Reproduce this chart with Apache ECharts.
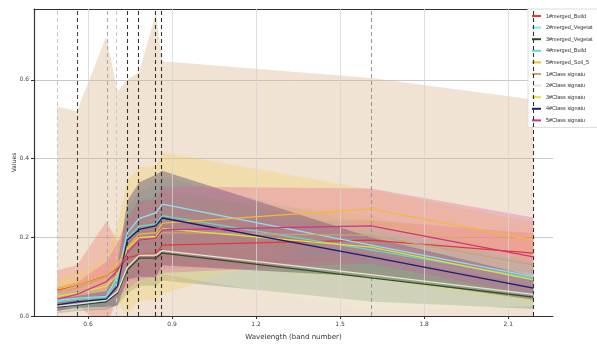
<!DOCTYPE html>
<html>
<head>
	<meta charset="UTF-8">
	<title>Band signatures</title>
	<script src="https://cdn.jsdelivr.net/npm/echarts@6/dist/echarts.min.js"></script>
</head>
<body style="margin:0; background:#fff;">
	<div id="container" style="width:597px;height:344px;"></div>
	<script type="text/javascript">
		// 波段中心波长 (μm)
		var bands = [0.49, 0.56, 0.665, 0.705, 0.74, 0.783, 0.842, 0.865, 1.61, 2.19];
		var xTicks = [0.6, 0.9, 1.2, 1.5, 1.8, 2.1];

		var names = ['1#merged_Build', '2#merged_Vegetat', '3#merged_Vegetat', '4#merged_Build', '5#merged_Soil_5',
			'1#Class signatu', '2#Class signatu', '3#Class signatu', '4#Class signatu', '5#Class signatu'];
		var colors = ['#e23a32', '#8fe0f2', '#2b4f2b', '#5fdcc0', '#f5b83a',
			'#c9a27a', '#dcebd0', '#e4de3c', '#1c1c72', '#d2338a'];
		var fills = ['#ee6a5a', '#8fd8ea', '#5f7f4f', '#6fdcc0', '#f2cc52',
			'#d9b890', '#e8f2d8', '#d8d860', '#3a3060', '#e0559a'];

		// 均值
		var mean1 = [0.066, 0.079, 0.104, 0.120, 0.147, 0.156, 0.158, 0.180, 0.193, 0.160];
		var mean2 = [0.040, 0.045, 0.050, 0.100, 0.211, 0.248, 0.262, 0.284, 0.180, 0.100];
		var mean3 = [0.022, 0.028, 0.036, 0.058, 0.117, 0.147, 0.147, 0.160, 0.097, 0.048];
		var mean4 = [0.036, 0.042, 0.048, 0.088, 0.198, 0.228, 0.234, 0.255, 0.168, 0.096];
		var mean5 = [0.068, 0.080, 0.105, 0.130, 0.175, 0.208, 0.212, 0.236, 0.272, 0.193];
		var mean6 = [0.060, 0.070, 0.100, 0.125, 0.160, 0.192, 0.196, 0.212, 0.205, 0.130];
		var mean7 = [0.025, 0.030, 0.040, 0.062, 0.124, 0.154, 0.155, 0.166, 0.105, 0.055];
		var mean8 = [0.050, 0.058, 0.075, 0.105, 0.170, 0.200, 0.202, 0.222, 0.175, 0.092];
		var mean9 = [0.028, 0.036, 0.043, 0.076, 0.193, 0.220, 0.229, 0.249, 0.150, 0.071];
		var mean10 = [0.043, 0.055, 0.087, 0.115, 0.160, 0.193, 0.197, 0.219, 0.229, 0.150];
		// 标准差
		var std1 = [0.050, 0.050, 0.136, 0.070, 0.060, 0.060, 0.060, 0.060, 0.050, 0.050];
		var std2 = [0.020, 0.020, 0.020, 0.040, 0.060, 0.070, 0.070, 0.070, 0.050, 0.040];
		var std3 = [0.015, 0.015, 0.020, 0.030, 0.060, 0.070, 0.070, 0.070, 0.060, 0.030];
		var std4 = [0.020, 0.020, 0.020, 0.040, 0.060, 0.070, 0.070, 0.070, 0.050, 0.040];
		var std5 = [0.030, 0.030, 0.040, 0.100, 0.170, 0.170, 0.170, 0.180, 0.050, 0.045];
		var std6 = [0.472, 0.450, 0.610, 0.445, 0.440, 0.428, 0.574, 0.435, 0.400, 0.420];
		var std7 = [0.015, 0.015, 0.020, 0.030, 0.050, 0.060, 0.060, 0.060, 0.090, 0.030];
		var std8 = [0.030, 0.030, 0.030, 0.050, 0.080, 0.090, 0.090, 0.090, 0.080, 0.060];
		var std9 = [0.015, 0.015, 0.020, 0.050, 0.100, 0.120, 0.130, 0.120, 0.050, 0.030];
		var std10 = [0.030, 0.030, 0.050, 0.070, 0.090, 0.100, 0.100, 0.110, 0.095, 0.100];

		var means = [mean1, mean2, mean3, mean4, mean5, mean6, mean7, mean8, mean9, mean10];
		var stds = [std1, std2, std3, std4, std5, std6, std7, std8, std9, std10];

		// 虚线颜色（各波段）
		var bandLineColors = ['#c8c8c8', '#444', '#aaa', '#c8c8c8', '#333', '#333', '#333', '#333', '#999', '#333'];

		var myChart = echarts.init(document.getElementById('container'));
		var series = [];
		var bandOrder = [5, 0, 1, 2, 3, 4, 6, 7, 8, 9];

		// 均值±标准差 区域
		function bandRender(i) {
			return function (params, api) {
				if (params.dataIndex !== 0) return;
				var top = [], bot = [];
				for (var k = 0; k < bands.length; k++) {
					top.push(api.coord([bands[k], means[i][k] + stds[i][k]]));
					bot.unshift(api.coord([bands[k], means[i][k] - stds[i][k]]));
				}
				return {
					type: 'polygon',
					shape: { points: top.concat(bot) },
					style: { fill: fills[i], opacity: i === 5 ? 0.4 : (i === 8 ? 0.36 : 0.3) }
				};
			};
		}

		bandOrder.forEach(function (i) {
			series.push({
				name: 'band' + i, type: 'custom', silent: true, clip: true,
				renderItem: bandRender(i),
				encode: { x: 0, y: 1 },
				data: bands.map(function (b, k) { return [b, means[i][k]]; }),
				z: 1
			});
		});

		// 网格线 + 波段虚线
		series.push({
			name: 'marks', type: 'line', data: [], silent: true,
			markLine: {
				symbol: 'none', silent: true, animation: false,
				label: { show: false },
				data: xTicks.map(function (v) {
					return { xAxis: v, lineStyle: { color: '#d4d4d4', type: 'solid', width: 0.8 } };
				}).concat(bands.map(function (v, k) {
					return { xAxis: v, lineStyle: { color: bandLineColors[k], type: [4, 3], width: 1.1 } };
				}))
			},
			z: 3
		});

		for (var i = 0; i < names.length; i++) {
			series.push({
				name: names[i], type: 'line', symbol: 'none',
				data: bands.map(function (b, k) { return [b, means[i][k]]; }),
				lineStyle: { color: colors[i], width: 1.3 },
				itemStyle: { color: colors[i] },
				z: 5
			});
		}

		var option = {
			animation: false,
			grid: { left: 34, right: 44, top: 9, bottom: 28, outerBoundsMode: 'none' },
			legend: {
				data: names,
				orient: 'vertical',
				left: 528, top: 9,
				backgroundColor: '#fff',
				borderColor: '#ddd', borderWidth: 1,
				padding: [4, 6, 4, 4],
				itemGap: 5.6, itemWidth: 9, itemHeight: 2,
				icon: 'rect',
				textStyle: { fontSize: 5.5, color: '#333', fontFamily: 'Liberation Sans' }
			},
			xAxis: [{
				type: 'value', min: 0.407, max: 2.26,
				name: 'Wavelength (band number)', nameLocation: 'middle', nameGap: 18, nameMoveOverlap: false,
				nameTextStyle: { fontSize: 7, color: '#333', fontFamily: 'DejaVu Sans' },
				axisLine: { lineStyle: { color: '#333', width: 1.2 } },
				axisTick: { customValues: xTicks, lineStyle: { color: '#333' }, length: 3 },
				axisLabel: { customValues: xTicks, fontSize: 6, color: '#444', margin: 5, fontFamily: 'DejaVu Sans',
					formatter: function (v) { return v.toFixed(1); } },
				splitLine: { show: false }
			}, {
				type: 'value', position: 'top', min: 0.407, max: 2.26,
				axisLine: { show: true, lineStyle: { color: '#333', width: 1.2 } },
				axisTick: { show: false }, axisLabel: { show: false }, splitLine: { show: false }
			}],
			yAxis: {
				type: 'value', min: 0, max: 0.78, interval: 0.2,
				name: 'Values', nameLocation: 'middle', nameGap: 17, nameRotate: 90, nameMoveOverlap: false,
				nameTextStyle: { fontSize: 6, color: '#333', fontFamily: 'DejaVu Sans' },
				axisLine: { show: true, lineStyle: { color: '#333', width: 1.2 } },
				axisTick: { show: true, length: 3, lineStyle: { color: '#333' } },
				axisLabel: { fontSize: 6, color: '#444', margin: 5, fontFamily: 'DejaVu Sans', showMaxLabel: false,
					formatter: function (v) { return v.toFixed(1); } },
				splitLine: { lineStyle: { color: '#bbb', width: 0.8 } }
			},
			series: series
		};
		myChart.setOption(option);
	</script>
</body>
</html>
